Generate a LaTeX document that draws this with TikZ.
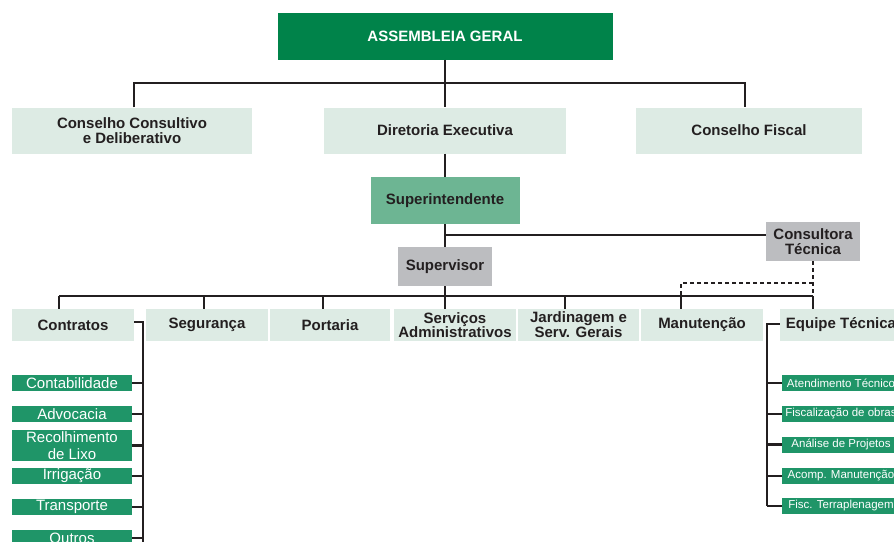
\documentclass[tikz,border=0pt]{standalone}
\usepackage{fontspec}
\setmainfont{Liberation Sans}
\definecolor{dkgreen}{HTML}{00834A}
\definecolor{ltgreen}{HTML}{DDEBE4}
\definecolor{mdgreen}{HTML}{6DB593}
\definecolor{grayb}{HTML}{BCBDC0}
\definecolor{itemgreen}{HTML}{1F9568}
\definecolor{ink}{HTML}{231F20}
\tikzset{
  box/.style={inner sep=0pt, align=center, font=\fontsize{15}{15.5}\selectfont\bfseries, text=ink},
  lt/.style={box, fill=ltgreen},
  row3/.style={lt, minimum height=32pt, font=\fontsize{15}{14}\selectfont\bfseries},
  item/.style={inner sep=0pt, fill=itemgreen, text=white, align=center, font=\fontsize{15}{16.5}\selectfont, minimum width=120pt, minimum height=16pt},
  ritem/.style={item, font=\fontsize{11.5}{13}\selectfont, minimum width=118pt},
  conn/.style={draw=ink, line width=2pt},
  tick/.style={draw=ink, line width=2.6pt},
  dashconn/.style={draw=ink, line width=2pt, dash pattern=on 4pt off 3pt}
}
\begin{document}
\begin{tikzpicture}[x=1pt,y=-1pt]
\clip (0,0) rectangle (894,541);
% top
\node[box, fill=dkgreen, text=white, minimum width=335pt, minimum height=47pt] (ag) at (445,36) {ASSEMBLEIA GERAL};
\node[lt, minimum width=240pt, minimum height=46pt] (ccd) at (132,130.5) {Conselho Consultivo\\e Deliberativo};
\node[lt, minimum width=242pt, minimum height=46pt] (de) at (445,130.5) {Diretoria Executiva};
\node[lt, minimum width=226pt, minimum height=46pt] (cf) at (749,130.5) {Conselho Fiscal};
\coordinate (b1l) at (134,83);
\coordinate (b1r) at (745,83);
\draw[conn, line width=1.6pt] (ag.south) -- (de.north);
\draw[conn] (ccd.north -| b1l) -- (b1l) -- (b1r) -- (cf.north -| b1r);
% middle
\node[box, fill=mdgreen, minimum width=149pt, minimum height=47pt] (sup) at (445,200.5) {Superintendente};
\node[box, fill=grayb, minimum width=94pt, minimum height=39pt] (supv) at (445,266.5) {Supervisor};
\node[box, fill=grayb, minimum width=94pt, minimum height=39pt] (cons) at (813,241.5) {Consultora\\Técnica};
\draw[conn] (de.south) -- (sup.north);
\draw[conn] (sup.south) -- (supv.north);
\coordinate (j1) at (445,235);
\draw[conn] (j1) -- (j1 -| cons.west);
% row 3
\node[row3, minimum width=122pt] (ctr) at (73,325) {Contratos};
\node[row3, minimum width=122pt] (seg) at (207,325) {Segurança};
\node[row3, minimum width=120pt] (por) at (330,325) {Portaria};
\node[row3, minimum width=122pt] (srv) at (455,325) {Serviços\\Administrativos};
\node[row3, minimum width=121pt] (jar) at (578.5,325) {Jardinagem e\\Serv. Gerais};
\node[row3, minimum width=122pt] (man) at (702,325) {Manutenção};
\node[row3, minimum width=122pt] (eq) at (841,325) {Equipe Técnica};
\coordinate (d1) at (59,296);
\coordinate (d2) at (204,296);
\coordinate (d3) at (323,296);
\coordinate (d4) at (445,296);
\coordinate (d5) at (565,296);
\coordinate (d6) at (681,296);
\coordinate (d7) at (813,296);
\draw[conn] (supv.south) -- (d4);
\draw[conn] (d1) -- (d7);
\foreach \d/\n in {d1/ctr,d2/seg,d3/por,d4/srv,d5/jar,d6/man,d7/eq}
  \draw[conn] (\d) -- (\d |- \n.north);
\coordinate (dj) at (813,283);
\draw[dashconn] (cons.south) -- (d7);
\draw[dashconn] (dj) -- (dj -| d6) -- (d6);
% left items
\node[item] (l1) at (72,383) {Contabilidade};
\node[item] (l2) at (72,414) {Advocacia};
\node[item, minimum height=31pt] (l3) at (72,445.5) {Recolhimento\\de Lixo};
\node[item] (l4) at (72,476) {Irrigação};
\node[item] (l5) at (72,507) {Transporte};
\node[item] (l6) at (72,538) {Outros};
\coordinate (lb) at (143,322);
\coordinate (lbe) at (143,548);
\draw[conn] (ctr.east |- lb) -- (lb) -- (lbe);
\foreach \n in {l1,l2,l3,l4,l5,l6}
  \draw[tick] (\n.east) -- (\n.east -| lb);
% right items
\node[ritem] (r1) at (841,383) {Atendimento Técnico};
\node[ritem] (r2) at (841,414) {Fiscalização de obras};
\node[ritem] (r3) at (841,444.5) {Análise de Projetos};
\node[ritem] (r4) at (841,476) {Acomp. Manutenção};
\node[ritem] (r5) at (841,506) {Fisc. Terraplenagem};
\coordinate (rb) at (767,324);
\draw[conn] (eq.west |- rb) -- (rb) -- (rb |- r5.west);
\foreach \n in {r1,r2,r3,r4,r5}
  \draw[tick] (\n.west) -- (\n.west -| rb);
\end{tikzpicture}
\end{document}
